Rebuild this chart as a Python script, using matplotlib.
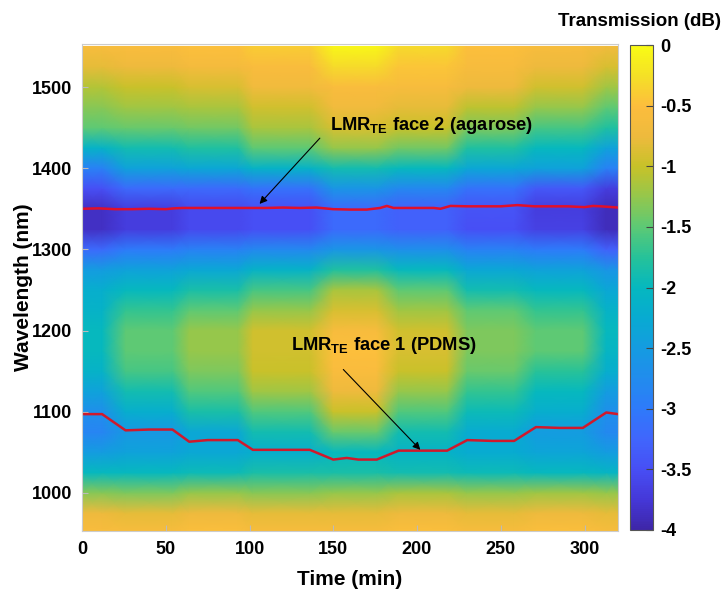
import numpy as np
import matplotlib
matplotlib.use("Agg")
import matplotlib.pyplot as plt
from matplotlib.colors import LinearSegmentedColormap

plt.rcParams['font.family'] = ['Liberation Sans', 'DejaVu Sans']
plt.rcParams['font.weight'] = 'bold'
plt.rcParams['mathtext.fontset'] = 'custom'
plt.rcParams['mathtext.rm'] = 'Liberation Sans:bold'
plt.rcParams['mathtext.bf'] = 'Liberation Sans:bold'
plt.rcParams['mathtext.it'] = 'Liberation Sans:bold'

# ---- measurement scans: start/end of each stable interval (min) ----
scan_start = [0, 26, 64, 102, 150, 189, 230, 271, 313]
scan_end = [12, 54, 93, 136, 176, 218, 258, 299, 320]

# wavelength axis of the spectra (nm)
wavelength = [950, 975, 1000, 1025, 1050, 1075, 1100, 1125, 1150, 1175, 1200,
              1225, 1250, 1275, 1300, 1325, 1350, 1375, 1400, 1425, 1450,
              1475, 1500, 1525, 1550]

# transmission (dB), one row per wavelength, one column per scan
transmission = [
    [-0.55, -0.55, -0.50, -0.55, -0.55, -0.50, -0.55, -0.50, -0.55],  # 950
    [-0.75, -0.80, -0.75, -0.80, -0.80, -0.75, -0.80, -0.75, -0.80],  # 975
    [-1.30, -1.35, -1.25, -1.30, -1.25, -1.15, -1.25, -1.20, -1.25],  # 1000
    [-2.00, -2.00, -1.95, -1.85, -1.85, -1.90, -1.95, -2.00, -2.05],  # 1025
    [-2.50, -2.40, -2.30, -2.20, -2.00, -2.10, -2.25, -2.35, -2.50],  # 1050
    [-2.85, -2.55, -2.30, -1.90, -1.45, -1.90, -2.25, -2.50, -2.80],  # 1075
    [-2.70, -2.20, -1.85, -1.55, -1.00, -1.55, -1.95, -2.20, -2.70],  # 1100
    [-2.40, -1.90, -1.55, -1.20, -0.75, -1.25, -1.70, -2.00, -2.50],  # 1125
    [-2.10, -1.60, -1.35, -1.00, -0.55, -1.00, -1.45, -1.75, -2.20],  # 1150
    [-2.00, -1.50, -1.25, -0.95, -0.50, -0.90, -1.35, -1.50, -2.05],  # 1175
    [-2.00, -1.50, -1.25, -0.95, -0.60, -0.95, -1.35, -1.50, -2.00],  # 1200
    [-2.10, -1.70, -1.50, -1.25, -0.90, -1.20, -1.50, -1.70, -2.10],  # 1225
    [-2.20, -2.00, -1.85, -1.60, -1.15, -1.50, -1.90, -2.00, -2.30],  # 1250
    [-2.50, -2.40, -2.30, -2.10, -1.80, -2.00, -2.30, -2.40, -2.60],  # 1275
    [-3.20, -3.00, -2.90, -2.80, -2.60, -2.70, -2.90, -3.00, -3.30],  # 1300
    [-3.85, -3.70, -3.55, -3.50, -3.20, -3.30, -3.50, -3.65, -3.90],  # 1325
    [-3.85, -3.70, -3.55, -3.50, -3.20, -3.30, -3.45, -3.70, -3.90],  # 1350
    [-3.50, -3.20, -3.20, -3.10, -2.60, -2.80, -3.10, -3.40, -3.70],  # 1375
    [-2.90, -2.40, -2.30, -2.10, -1.90, -2.00, -2.30, -2.40, -2.90],  # 1400
    [-2.10, -1.90, -1.80, -1.50, -1.25, -1.40, -1.80, -2.00, -2.40],  # 1425
    [-1.50, -1.45, -1.40, -1.15, -0.90, -1.00, -1.35, -1.60, -1.80],  # 1450
    [-1.30, -1.20, -1.15, -0.95, -0.70, -0.80, -1.05, -1.25, -1.50],  # 1475
    [-1.10, -1.00, -0.90, -0.70, -0.55, -0.60, -0.75, -0.95, -1.20],  # 1500
    [-0.80, -0.75, -0.65, -0.55, -0.30, -0.45, -0.60, -0.75, -0.90],  # 1525
    [-0.60, -0.55, -0.50, -0.40, -0.05, -0.30, -0.50, -0.60, -0.70],  # 1550
]

# tracked resonance of face 1 (PDMS)
pdms_time = [0, 12, 26, 40, 54, 64, 75, 93, 102, 120, 136, 150, 158, 165, 176,
             189, 205, 218, 230, 245, 258, 271, 285, 299, 313, 320]
pdms_wl = [1097, 1097, 1077, 1078, 1078, 1063, 1065, 1065, 1053, 1053, 1053,
           1041, 1043, 1041, 1041, 1052, 1052, 1052, 1065, 1064, 1064, 1081,
           1080, 1080, 1099, 1097]

# tracked resonance of face 2 (agarose)
agar_time = [0, 10, 20, 30, 40, 50, 55, 60, 70, 80, 90, 100, 110, 120, 130,
             140, 150, 160, 170, 178, 182, 186, 190, 200, 210, 214, 220, 230,
             240, 250, 260, 270, 280, 290, 300, 305, 310, 320]
agar_wl = [1350, 1350.5, 1349.5, 1349.5, 1350, 1349.5, 1350.5, 1351, 1351, 1351,
           1351, 1351, 1351, 1351.5, 1351, 1351.5, 1349.5, 1349, 1349, 1351,
           1353.5, 1351, 1351, 1351, 1351, 1350, 1353.5, 1353, 1353, 1353,
           1354.5, 1353, 1353, 1353, 1352, 1353.5, 1353, 1351.5]

cbar_ticks = [0, -0.5, -1, -1.5, -2, -2.5, -3, -3.5, -4]
cbar_labels = ['0', '-0.5', '-1', '-1.5', '-2', '-2.5', '-3', '-3.5', '-4']

# parula-like colormap
parula_colors = [
    (0.242, 0.150, 0.660), (0.270, 0.220, 0.850), (0.280, 0.310, 0.960),
    (0.250, 0.400, 0.990), (0.180, 0.480, 0.980), (0.130, 0.550, 0.930),
    (0.080, 0.610, 0.880), (0.030, 0.670, 0.820), (0.020, 0.720, 0.750),
    (0.150, 0.760, 0.600), (0.360, 0.790, 0.460), (0.580, 0.780, 0.300),
    (0.780, 0.760, 0.160), (0.930, 0.730, 0.240), (0.990, 0.740, 0.240),
    (0.960, 0.880, 0.150), (0.976, 0.984, 0.081),
]
parula = LinearSegmentedColormap.from_list('parula', parula_colors, N=256)

# expand the scans so each stable interval keeps its spectrum
t_nodes = []
cols = []
trans = np.array(transmission)
for i, (s, e) in enumerate(zip(scan_start, scan_end)):
    t_nodes += [s, e]
    cols += [i, i]
T, W = np.meshgrid(np.array(t_nodes, float), np.array(wavelength, float))
Z = trans[:, cols]

fig = plt.figure(figsize=(7.23, 5.90), dpi=100)
ax = fig.add_axes([82 / 723, 1 - 531 / 590, 536 / 723, 487 / 590])
cax = fig.add_axes([630 / 723, 1 - 530 / 590, 23 / 723, 485 / 590])

mesh = ax.pcolormesh(T, W, Z, shading='gouraud', cmap=parula, vmin=-4, vmax=0,
                     rasterized=True)
ax.plot(pdms_time, pdms_wl, color='#d0192c', lw=1.8)
ax.plot(agar_time, agar_wl, color='#e0102a', lw=1.8)

ax.set_xlim(0, 320)
ax.set_ylim(953, 1553)
ax.set_xticks([0, 50, 100, 150, 200, 250, 300])
ax.set_yticks([1000, 1100, 1200, 1300, 1400, 1500])
ax.tick_params(direction='in', length=4, color='#bbbbbb', labelsize=13,
               pad=7)
for lab in ax.get_xticklabels() + ax.get_yticklabels():
    lab.set_fontweight('bold')
for sp in ax.spines.values():
    sp.set_color('#cccccc')
    sp.set_linewidth(0.8)
ax.set_xlabel('Time (min)', fontsize=15, fontweight='bold', labelpad=9)
ax.set_ylabel('Wavelength (nm)', fontsize=15, fontweight='bold', labelpad=-1)

arrow = dict(arrowstyle='-|>', color='black', lw=0.8, mutation_scale=11,
             shrinkA=0, shrinkB=0)
ax.annotate('LMR$_{TE}$ face 2 (agarose)', xy=(106, 1356), xytext=(148, 1452),
            fontsize=13.2, fontweight='bold', ha='left', va='center')
ax.annotate('', xy=(106, 1356), xytext=(142, 1437), arrowprops=arrow)
ax.annotate('LMR$_{TE}$ face 1 (PDMS)', xy=(202, 1053), xytext=(125, 1181),
            fontsize=13.2, fontweight='bold', ha='left', va='center')
ax.annotate('', xy=(202, 1053), xytext=(156, 1152), arrowprops=arrow)

cb = fig.colorbar(mesh, cax=cax, ticks=cbar_ticks)
cb.outline.set_edgecolor('#555555')
cb.outline.set_linewidth(0.8)
cax.tick_params(direction='in', length=5, color='#444444', labelsize=13, pad=5)
cax.set_yticklabels(cbar_labels, fontweight='bold')
fig.text(640 / 723, 1 - 22 / 590, 'Transmission (dB)', fontsize=13.5,
         fontweight='bold', ha='center', va='center')

fig.savefig('out.png', dpi=100)
